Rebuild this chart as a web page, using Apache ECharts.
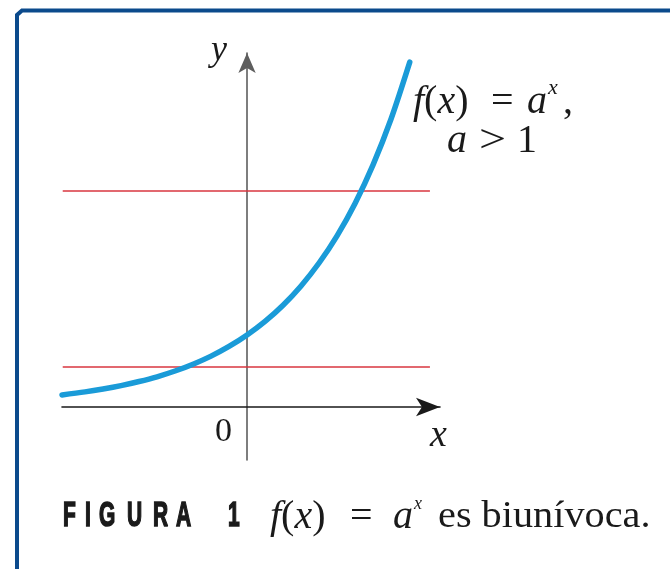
<!DOCTYPE html>
<html>
<head>
<meta charset="utf-8">
<script src="https://cdn.jsdelivr.net/npm/echarts@6/dist/echarts.min.js"></script>
<style>html,body{margin:0;padding:0;background:#fff;}#c{width:670px;height:569px;}</style>
</head>
<body>
<div id="c"></div>
<script>
// Curve f(x) = a^x
const curveX = [-2.57, -2.25, -2.0, -1.75, -1.5, -1.25, -1.0, -0.75, -0.5, -0.25, 0.0,
                0.25, 0.5, 0.75, 1.0, 1.25, 1.5, 1.75, 2.0, 2.26];
const curveY = [0.168, 0.210, 0.250, 0.297, 0.354, 0.420, 0.500, 0.595, 0.707, 0.841, 1.000,
                1.189, 1.414, 1.682, 2.000, 2.378, 2.828, 3.364, 4.000, 4.790];
// Horizontal red lines
const hLineLevels = [0.556, 3.0];
const hLineXRange = [-2.56, 2.54];
// Axis extents
const xRange = [-2.57, 2.68];
const yRange = [-0.736, 4.917];

const chart = echarts.init(document.getElementById('c'), null, {renderer: 'canvas'});

const curveData = curveX.map((x, i) => [x, curveY[i]]);
const series = hLineLevels.map(v => ({
  type: 'line',
  data: [[hLineXRange[0], v], [hLineXRange[1], v]],
  symbol: 'none',
  lineStyle: {color: '#d8363f', width: 1.6},
  z: 2,
  silent: true
}));
series.push({
  type: 'line',
  data: curveData,
  smooth: 0.3,
  symbol: 'none',
  lineStyle: {color: '#1a9bd8', width: 5.5, cap: 'round'},
  z: 3,
  silent: true
});

const serif = "'Liberation Serif', 'DejaVu Serif', serif";
const ink = '#1a1a1a';
function t(x, y, text, size, italic, extra) {
  return Object.assign({type: 'text', x: x, y: y, silent: true, style: {
    text: text, font: (italic ? 'italic ' : '') + size + 'px ' + serif, fill: ink,
    textAlign: 'left', textVerticalAlign: 'middle'
  }}, extra || {});
}
function richFx(x, y, size) {
  return {type: 'text', x: x, y: y, silent: true, style: {
    text: '{i|f}({i|x})', font: size + 'px ' + serif, fill: ink,
    textAlign: 'left', textVerticalAlign: 'middle',
    rich: {i: {fontStyle: 'italic', fontSize: size, fontFamily: serif, fill: ink}}
  }};
}
const sans = "bold 35px 'Liberation Sans', 'DejaVu Sans', sans-serif";
function cap(x, ch) {
  return {type: 'text', x: x, y: 516, scaleX: 0.6, silent: true, style: {
    text: ch, font: sans, fill: ink, stroke: ink, lineWidth: 1.6,
    textAlign: 'left', textVerticalAlign: 'middle'}};
}

chart.setOption({
  backgroundColor: '#ffffff',
  animation: false,
  grid: {left: 62, right: 230, top: 53, bottom: 109},
  xAxis: {
    type: 'value', min: xRange[0], max: xRange[1],
    axisLine: {onZero: true, lineStyle: {color: '#1a1a1a', width: 1.6},
      symbol: ['none', 'arrow'], symbolSize: [14, 24]},
    axisTick: {show: false}, axisLabel: {show: false}, splitLine: {show: false}
  },
  yAxis: {
    type: 'value', min: yRange[0], max: yRange[1],
    axisLine: {onZero: true, lineStyle: {color: '#5e5e5e', width: 1.6},
      symbol: ['none', 'arrow'], symbolSize: [13, 20]},
    axisTick: {show: false}, axisLabel: {show: false}, splitLine: {show: false}
  },
  series: series,
  graphic: [
    {type: 'polyline', shape: {points: [[17, 569], [17, 15], [22, 10.5], [670, 10.5]]},
     style: {stroke: '#0b4a8c', lineWidth: 4, fill: null}, silent: true},
    // axis labels
    t(211, 51, 'y', 36, true),
    t(215, 432, '0', 34, false),
    t(430, 436, 'x', 38, true),
    // f(x) = a^x,
    richFx(413, 102, 40),
    t(491, 102, '=', 40, false),
    t(527, 102, 'a', 40, true),
    t(548, 88, 'x', 22, true),
    t(563, 102, ',', 40, false),
    // a > 1
    t(447, 141, 'a', 40, true),
    t(479, 141, '>', 40, false, {scaleX: 1.2}),
    t(517, 141, '1', 40, false),
    // caption
    cap(63, 'F'), cap(85, 'I'), cap(99, 'G'), cap(127, 'U'), cap(153, 'R'), cap(176, 'A'), cap(228, '1'),
    richFx(270, 517, 40),
    t(350, 517, '=', 40, false),
    t(393, 517, 'a', 40, true),
    t(414, 504, 'x', 18, true),
    t(438, 517, 'es biunívoca.', 38, false, {scaleX: 1.06})
  ]
});
</script>
</body>
</html>
